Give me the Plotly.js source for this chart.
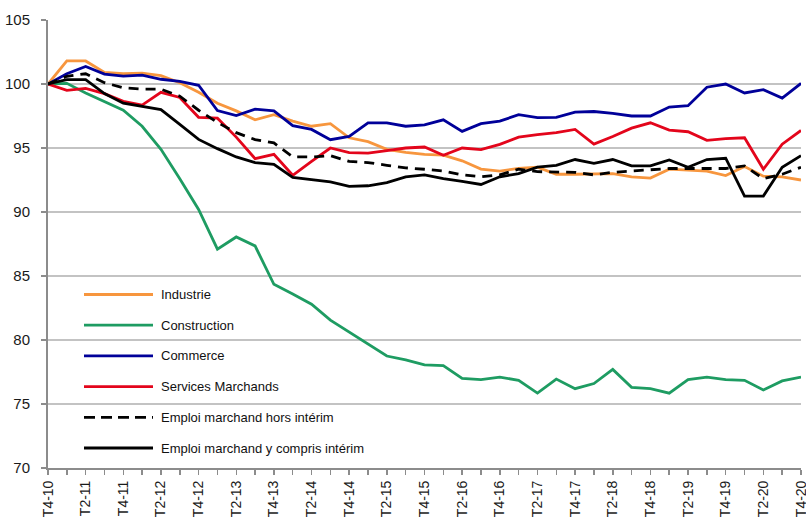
<!DOCTYPE html>
<html>
<head>
<meta charset="utf-8">
<script src="https://cdn.plot.ly/plotly-3.0.1.min.js"></script>
<style>
  html, body { margin: 0; padding: 0; background: #ffffff; }
  #chart { width: 806px; height: 517px; }
</style>
</head>
<body>
<div id="chart"></div>
<script>
// ---- Data ----
const quarters = [
  "T4-10",
  "T1-11","T2-11","T3-11","T4-11",
  "T1-12","T2-12","T3-12","T4-12",
  "T1-13","T2-13","T3-13","T4-13",
  "T1-14","T2-14","T3-14","T4-14",
  "T1-15","T2-15","T3-15","T4-15",
  "T1-16","T2-16","T3-16","T4-16",
  "T1-17","T2-17","T3-17","T4-17",
  "T1-18","T2-18","T3-18","T4-18",
  "T1-19","T2-19","T3-19","T4-19",
  "T1-20","T2-20","T3-20","T4-20"
];
// labelled ticks (every second quarter)
const tickLabels = ["T4-10","T2-11","T4-11","T2-12","T4-12","T2-13","T4-13","T2-14","T4-14",
  "T2-15","T4-15","T2-16","T4-16","T2-17","T4-17","T2-18","T4-18","T2-19","T4-19","T2-20","T4-20"];

const industrie = [100, 101.8, 101.8, 100.9, 100.8, 100.85, 100.65, 100.1, 99.35, 98.5,
  97.9, 97.2, 97.6, 97.1, 96.7, 96.9, 95.8, 95.5, 94.9, 94.65,
  94.5, 94.45, 94.0, 93.35, 93.2, 93.4, 93.5, 92.95, 92.95, 92.95,
  93.0, 92.75, 92.65, 93.35, 93.3, 93.2, 92.85, 93.55, 92.8, 92.75, 92.5];

const construction = [100, 100.05, 99.3, 98.6, 97.95, 96.7, 94.9, 92.6, 90.2, 87.1,
  88.05, 87.35, 84.35, 83.6, 82.8, 81.55, 80.6, 79.7, 78.75, 78.45,
  78.05, 78.0, 77.0, 76.9, 77.1, 76.85, 75.85, 76.95, 76.2, 76.6,
  77.7, 76.3, 76.2, 75.85, 76.9, 77.1, 76.9, 76.85, 76.1, 76.8, 77.1];

const commerce = [100, 100.8, 101.37, 100.78, 100.62, 100.7, 100.37, 100.2, 99.9, 97.93,
  97.54, 98.03, 97.9, 96.75, 96.45, 95.65, 95.9, 96.97, 96.97, 96.7,
  96.8, 97.2, 96.3, 96.9, 97.1, 97.6, 97.38, 97.4, 97.8, 97.85,
  97.7, 97.5, 97.5, 98.2, 98.3, 99.75, 100.0, 99.3, 99.56, 98.9, 100.05];

const servicesMarchands = [100, 99.5, 99.66, 99.25, 98.65, 98.35, 99.35, 98.95, 97.4, 97.33,
  95.85, 94.17, 94.5, 92.87, 93.95, 95.0, 94.64, 94.6, 94.8, 95.0,
  95.08, 94.43, 95.0, 94.87, 95.28, 95.85, 96.04, 96.2, 96.45, 95.3,
  95.9, 96.55, 96.97, 96.4, 96.27, 95.6, 95.73, 95.8, 93.34, 95.3, 96.37];

const emploiHorsInterim = [100, 100.6, 100.8, 100.1, 99.7, 99.6, 99.6, 99.05, 97.95, 97.0,
  96.2, 95.65, 95.4, 94.3, 94.3, 94.4, 93.95, 93.86, 93.65, 93.45,
  93.34, 93.2, 92.9, 92.75, 92.9, 93.35, 93.15, 93.1, 93.1, 92.9,
  93.1, 93.2, 93.3, 93.4, 93.4, 93.4, 93.4, 93.6, 92.6, 92.95, 93.5];

const emploiYComprisInterim = [100, 100.34, 100.34, 99.25, 98.5, 98.25, 98.0, 96.85, 95.67, 94.95,
  94.3, 93.86, 93.73, 92.7, 92.54, 92.36, 92.0, 92.05, 92.3, 92.75,
  92.9, 92.6, 92.4, 92.15, 92.75, 93.0, 93.5, 93.65, 94.1, 93.8,
  94.1, 93.6, 93.6, 94.07, 93.5, 94.1, 94.2, 91.24, 91.24, 93.5, 94.4];

const seriesNames = ["Industrie", "Construction", "Commerce", "Services Marchands",
  "Emploi marchand hors intérim", "Emploi marchand y compris intérim"];
const seriesValues = [industrie, construction, commerce, servicesMarchands,
  emploiHorsInterim, emploiYComprisInterim];
const seriesColors = ["#F7963E", "#1E9C62", "#000099", "#E3051B", "#000000", "#000000"];
const seriesDash = ["solid", "solid", "solid", "solid", "10px,7px", "solid"];

const yTicks = [70, 75, 80, 85, 90, 95, 100, 105];
const yGrid = [75, 80, 85, 90, 95, 100];

// ---- Traces ----
const traces = seriesNames.map((name, k) => ({
  type: "scatter",
  mode: "lines",
  name: name,
  x: quarters,
  y: seriesValues[k],
  line: { color: seriesColors[k], width: 2.8, dash: seriesDash[k] },
  showlegend: false,
  hoverinfo: "x+y+name"
}));

// ---- Custom legend (line sample + label), positioned in paper coords ----
const plotL = 48, plotR = 801, plotT = 20, plotB = 468;
const pw = plotR - plotL, ph = plotB - plotT;
const px2x = p => (p - plotL) / pw;
const py2y = p => (plotB - p) / ph;

const shapes = [];
const annotations = [];
seriesNames.forEach((name, k) => {
  const yc = 294.5 + k * 30.7;
  shapes.push({
    type: "line", xref: "paper", yref: "paper",
    x0: px2x(84), x1: px2x(153), y0: py2y(yc), y1: py2y(yc),
    line: { color: seriesColors[k], width: 2.8, dash: k === 4 ? "11px,6px" : "solid" }
  });
  annotations.push({
    xref: "paper", yref: "paper", x: px2x(159), y: py2y(yc),
    xanchor: "left", yanchor: "middle", showarrow: false,
    text: name,
    font: { family: 'Arial, "Liberation Sans", sans-serif', size: 13, color: "#111111" }
  });
});

// ---- Layout ----
const tickvalsX = quarters;
const ticktextX = quarters.map(q => tickLabels.includes(q) ? q : "");

const layout = {
  width: 806,
  height: 517,
  margin: { l: plotL, r: 806 - plotR, t: plotT, b: 517 - plotB, pad: 0 },
  paper_bgcolor: "#ffffff",
  plot_bgcolor: "#ffffff",
  font: { family: 'Arial, "Liberation Sans", sans-serif', size: 15, color: "#1a1a1a" },
  showlegend: false,
  xaxis: {
    type: "category",
    range: [0, quarters.length - 1],
    tickmode: "array",
    tickvals: tickvalsX,
    ticktext: ticktextX,
    tickangle: -90,
    ticks: "outside",
    ticklen: 5,
    tickwidth: 1.5,
    tickcolor: "#8c8c8c",
    showline: true,
    linecolor: "#8c8c8c",
    linewidth: 2,
    showgrid: false,
    zeroline: false,
    tickfont: { size: 14, color: "#1a1a1a" },
    fixedrange: true
  },
  yaxis: {
    range: [70, 105],
    tickmode: "array",
    tickvals: yTicks,
    ticks: "outside",
    ticklen: 5,
    tickwidth: 1.5,
    tickcolor: "#8c8c8c",
    showline: true,
    linecolor: "#8c8c8c",
    linewidth: 2,
    showgrid: false,
    zeroline: false,
    tickfont: { size: 15, color: "#1a1a1a" },
    ticklabelstandoff: 8,
    minor: {
      tickmode: "array",
      tickvals: yGrid,
      ticks: "",
      showgrid: true,
      gridcolor: "#c3c3c3",
      gridwidth: 2
    },
    fixedrange: true
  },
  shapes: shapes,
  annotations: annotations
};

Plotly.newPlot("chart", traces, layout, { displayModeBar: false, staticPlot: true });
</script>
</body>
</html>
